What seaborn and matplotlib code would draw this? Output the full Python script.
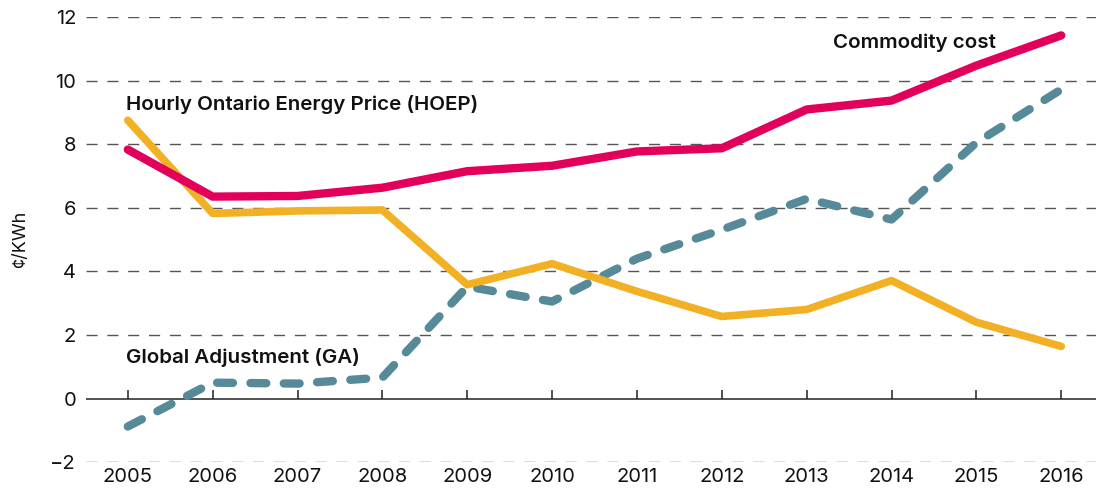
import matplotlib
matplotlib.use("Agg")
from matplotlib import pyplot as plt
import pandas as pd
import seaborn as sns

# Values (cents per kWh)
years = [2005, 2006, 2007, 2008, 2009, 2010, 2011, 2012, 2013, 2014, 2015, 2016]
commodity = [7.83, 6.35, 6.37, 6.63, 7.15, 7.32, 7.77, 7.87, 9.09, 9.37, 10.47, 11.42]
hoep = [8.75, 5.82, 5.90, 5.93, 3.58, 4.24, 3.37, 2.58, 2.80, 3.71, 2.40, 1.64]
ga = [-0.88, 0.50, 0.47, 0.66, 3.52, 3.05, 4.40, 5.31, 6.28, 5.63, 8.05, 9.72]

y_ticks = [-2, 0, 2, 4, 6, 8, 10, 12]
y_tick_labels = ["\u22122", "0", "2", "4", "6", "8", "10", "12"]

df = pd.DataFrame({"year": years, "commodity": commodity, "hoep": hoep, "ga": ga})

sns.set_theme(style="white")
plt.rcParams["font.family"] = ["Inter", "DejaVu Sans"]

fig = plt.figure(figsize=(11, 4.98), dpi=100)
ax = fig.add_axes([0.078, 0.072, 0.9184, 0.894])

# Grid lines (dashed) and a solid zero line
for t in y_ticks:
    if t == 0:
        ax.axhline(0, color="#222222", lw=1.1, zorder=1)
    else:
        ax.axhline(t, color="#555555", lw=1.0, linestyle=(0, (8, 7)), zorder=1)

# Small year ticks on the zero line
ax.vlines(years, 0, 0.28, color="#222222", lw=1.1, zorder=1)

sns.lineplot(data=df, x="year", y="ga", ax=ax, color="#578a99", lw=6,
             linestyle=(0, (1.9, 2.1)), dash_capstyle="round", zorder=3)
sns.lineplot(data=df, x="year", y="hoep", ax=ax, color="#f2b024", lw=5.5,
             solid_capstyle="round", zorder=4)
sns.lineplot(data=df, x="year", y="commodity", ax=ax, color="#e3005b", lw=6,
             solid_capstyle="round", zorder=5)

label_kw = dict(fontsize=14.8, fontweight="semibold", va="center", ha="left",
                color="#111111")
ax.text(2004.98, 9.25, "Hourly Ontario Energy Price (HOEP)", **label_kw)
ax.text(2013.31, 11.2, "Commodity cost", **label_kw)
ax.text(2004.98, 1.29, "Global Adjustment (GA)", **label_kw)

ax.set_xlim(2004.505, 2016.41)
ax.set_ylim(-2, 12)
ax.set_xticks(years)
ax.set_xticklabels([str(y) for y in years])
ax.set_yticks(y_ticks)
ax.set_yticklabels(y_tick_labels)
ax.tick_params(axis="both", length=0, labelsize=14.5, colors="#111111")
ax.tick_params(axis="x", pad=4)
ax.tick_params(axis="y", pad=7)

ax.set_xlabel("")
ax.set_ylabel("\u00a2/KWh", fontsize=13, color="#111111")
ax.yaxis.set_label_coords(-0.056, 0.5)

for s in ax.spines.values():
    s.set_visible(False)

fig.savefig("out.png", dpi=100)
